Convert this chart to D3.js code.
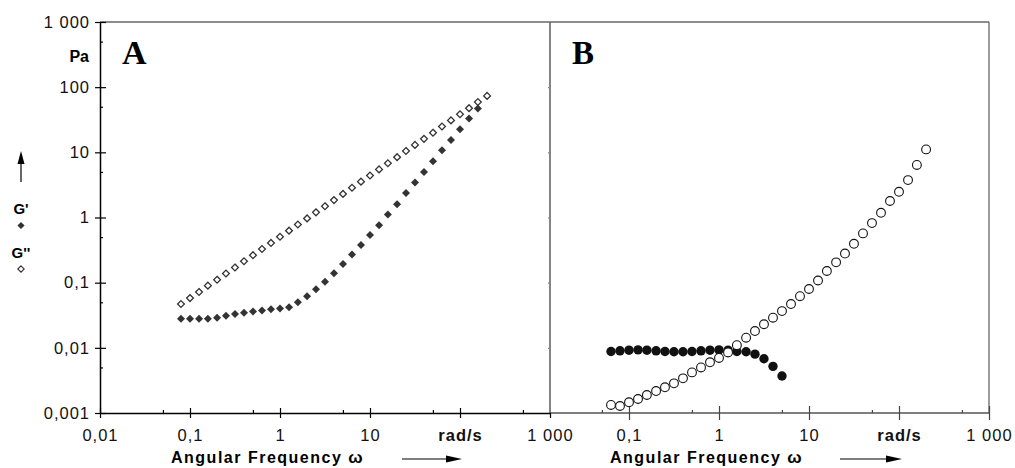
<!DOCTYPE html>
<html>
<head>
<meta charset="utf-8">
<script src="https://cdn.jsdelivr.net/npm/d3@7"></script>
<style>
  body { margin: 0; background: #fff; }
  text { font-family: "Liberation Sans", Arial, sans-serif; }
</style>
</head>
<body>
<svg id="chart" width="1015" height="468"></svg>
<script>
// panel A frequencies (rad/s), 10 points per decade
const freqA = [0.0794, 0.1, 0.126, 0.158, 0.2, 0.251, 0.316, 0.398, 0.501, 0.631,
  0.794, 1, 1.26, 1.58, 2, 2.51, 3.16, 3.98, 5.01, 6.31,
  7.94, 10, 12.6, 15.8, 20, 25.1, 31.6, 39.8, 50.1, 63.1,
  79.4, 100, 126, 158, 200];
// G' (filled diamonds), panel A
const gPrimeA = [0.028, 0.028, 0.028, 0.028, 0.029, 0.031, 0.033, 0.0345, 0.036, 0.0375,
  0.039, 0.040, 0.042, 0.050, 0.062, 0.079, 0.103, 0.139, 0.193, 0.27,
  0.378, 0.54, 0.76, 1.11, 1.6, 2.37, 3.45, 5.0, 7.3, 10.8,
  15.5, 22.7, 33, 47];
// G'' (open diamonds), panel A
const gDoubleA = [0.047, 0.058, 0.072, 0.090, 0.111, 0.138, 0.171, 0.213, 0.264, 0.328,
  0.407, 0.506, 0.628, 0.780, 0.968, 1.20, 1.49, 1.85, 2.30, 2.86,
  3.55, 4.41, 5.47, 6.79, 8.43, 10.5, 13.0, 16.1, 20.0, 24.9,
  30.9, 38.4, 47.6, 59.2, 73.5];

// panel B frequencies
const freqB = [0.0631, 0.0794, 0.1, 0.126, 0.158, 0.2, 0.251, 0.316, 0.398, 0.501,
  0.631, 0.794, 1, 1.26, 1.58, 2, 2.51, 3.16, 3.98, 5.01,
  6.31, 7.94, 10, 12.6, 15.8, 20, 25.1, 31.6, 39.8, 50.1,
  63.1, 79.4, 100, 126, 158, 200];
// G' (filled circles), panel B
const gPrimeB = [0.0088, 0.0090, 0.0092, 0.0093, 0.0092, 0.0090, 0.0088, 0.0087, 0.0087, 0.0088,
  0.0090, 0.0092, 0.0093, 0.0092, 0.0088, 0.0087, 0.0080, 0.0068, 0.0052, 0.0037];
// G'' (open circles), panel B
const gDoubleB = [0.00133, 0.00128, 0.00146, 0.00164, 0.00189, 0.00217, 0.00248, 0.00285, 0.0034, 0.0042,
  0.0050, 0.0060, 0.0070, 0.0085, 0.0110, 0.0143, 0.0181, 0.023, 0.029, 0.0366,
  0.047, 0.062, 0.080, 0.108, 0.151, 0.205, 0.28, 0.395, 0.57, 0.82,
  1.18, 1.79, 2.48, 3.75, 6.4, 11.1];

const yTickValues = [0.001, 0.01, 0.1, 1, 10, 100, 1000];
const yTickLabels = ["0,001", "0,01", "0,1", "1", "10", "100", "1 000"];
const yMinor = [0.005, 0.05, 0.5, 5, 50, 500];
const xTickValuesA = [0.01, 0.1, 1, 10, 100, 1000];
const xTickLabelsA = ["0,01", "0,1", "1", "10", "rad/s", "1 000"];
const xTickValuesB = [0.1, 1, 10, 100, 1000];
const xTickLabelsB = ["0,1", "1", "10", "rad/s", "1 000"];
const xMinor = [0.05, 0.5, 5, 50, 500];

const svg = d3.select("#chart");

const y = d3.scaleLog().domain([0.001, 1000]).range([413, 22]);
const xA = d3.scaleLog().domain([0.01, 1000]).range([100, 550]);
const xB = d3.scaleLog().domain([0.1, 1000]).range([629, 989]);

const frameColor = "#666";

// frame lines
svg.append("line").attr("x1", 100).attr("x2", 989).attr("y1", 22).attr("y2", 22)
   .attr("stroke", frameColor).attr("stroke-width", 1.3);
svg.append("line").attr("x1", 550).attr("x2", 550).attr("y1", 22).attr("y2", 413)
   .attr("stroke", frameColor).attr("stroke-width", 1.6);
svg.append("line").attr("x1", 989).attr("x2", 989).attr("y1", 22).attr("y2", 413)
   .attr("stroke", frameColor).attr("stroke-width", 1.3);
// panel B bottom line, starts at the divider
svg.append("line").attr("x1", 550).attr("x2", 989).attr("y1", 413).attr("y2", 413)
   .attr("stroke", "#555").attr("stroke-width", 1.3);

function styleAxis(g, color) {
  g.selectAll("line").attr("stroke", color).attr("stroke-width", 1.2);
  g.selectAll("path").attr("stroke", color).attr("stroke-width", 1.5);
  g.selectAll("text")
    .attr("fill", "#111")
    .style("font-size", "16.5px")
    .style("letter-spacing", "1px");
}

// panel A left axis (outside ticks with labels)
svg.append("g")
   .attr("transform", "translate(100,0)")
   .call(d3.axisLeft(y).tickValues(yTickValues).tickFormat((d, i) => yTickLabels[i])
         .tickSize(5).tickPadding(5).tickSizeOuter(0))
   .call(g => styleAxis(g, "#000"));
// inside half of the major ticks
svg.append("g")
   .attr("transform", "translate(100,0)")
   .call(d3.axisRight(y).tickValues(yTickValues).tickFormat("").tickSize(6))
   .call(g => g.select(".domain").remove())
   .call(g => styleAxis(g, "#000"));
// minor ticks
svg.append("g")
   .attr("transform", "translate(100,0)")
   .call(d3.axisRight(y).tickValues(yMinor).tickFormat("").tickSize(3))
   .call(g => g.select(".domain").remove())
   .call(g => styleAxis(g, "#000"));
// tiny ticks on the right axis of A
svg.append("g")
   .attr("transform", "translate(550,0)")
   .call(d3.axisLeft(y).tickValues(yTickValues.slice(1, 6)).tickFormat("").tickSize(2))
   .call(g => g.select(".domain").remove())
   .call(g => styleAxis(g, "#888"));

// panel A bottom axis
svg.append("g")
   .attr("transform", "translate(0,413)")
   .call(d3.axisBottom(xA).tickValues(xTickValuesA).tickFormat((d, i) => xTickLabelsA[i])
         .tickSize(5).tickPadding(11).tickSizeOuter(0))
   .call(g => styleAxis(g, "#000"));
svg.append("g")
   .attr("transform", "translate(0,413)")
   .call(d3.axisTop(xA).tickValues(xTickValuesA.slice(0, 5)).tickFormat("").tickSize(5))
   .call(g => g.select(".domain").remove())
   .call(g => styleAxis(g, "#000"));
svg.append("g")
   .attr("transform", "translate(0,413)")
   .call(d3.axisTop(xA).tickValues(xMinor).tickFormat("").tickSize(3))
   .call(g => g.select(".domain").remove())
   .call(g => styleAxis(g, "#000"));

// panel B bottom axis
svg.append("g")
   .attr("transform", "translate(0,413)")
   .call(d3.axisBottom(xB).tickValues(xTickValuesB).tickFormat((d, i) => xTickLabelsB[i])
         .tickSize(7).tickPadding(9))
   .call(g => g.select(".domain").remove())
   .call(g => styleAxis(g, "#444"));
svg.append("g")
   .attr("transform", "translate(0,413)")
   .call(d3.axisTop(xB).tickValues(xTickValuesB).tickFormat("").tickSize(7))
   .call(g => g.select(".domain").remove())
   .call(g => styleAxis(g, "#444"));
svg.append("g")
   .attr("transform", "translate(0,413)")
   .call(d3.axisTop(xB).tickValues(xMinor).tickFormat("").tickSize(3))
   .call(g => g.select(".domain").remove())
   .call(g => styleAxis(g, "#444"));

// rad/s labels are bold
svg.selectAll(".tick text").filter(function() { return d3.select(this).text() === "rad/s"; })
   .style("font-weight", "bold");

// unit
svg.append("text").attr("x", 89).attr("y", 62).attr("text-anchor", "end")
   .style("font-size", "16px").style("font-weight", "bold").text("Pa");

// panel letters
svg.append("text").attr("x", 122).attr("y", 64)
   .style("font-family", "'Liberation Serif', 'Times New Roman', serif")
   .style("font-size", "34px").style("font-weight", "bold").text("A");
svg.append("text").attr("x", 572).attr("y", 64)
   .style("font-family", "'Liberation Serif', 'Times New Roman', serif")
   .style("font-size", "33px").style("font-weight", "bold").text("B");

// diamond shape
function diamond(r) {
  return `M0,${-r}L${r},0L0,${r}L${-r},0Z`;
}

const ptsDoubleA = freqA.map((f, i) => ({ f: f, v: gDoubleA[i] }));
const ptsPrimeA = gPrimeA.map((v, i) => ({ f: freqA[i], v: v }));

svg.append("g").selectAll("path")
   .data(ptsDoubleA).enter()
   .append("path")
   .attr("d", diamond(3.4))
   .attr("transform", d => `translate(${xA(d.f)},${y(d.v)})`)
   .attr("fill", "#fff").attr("stroke", "#333").attr("stroke-width", 1.3);

svg.append("g").selectAll("path")
   .data(ptsPrimeA).enter()
   .append("path")
   .attr("d", diamond(4))
   .attr("transform", d => `translate(${xA(d.f)},${y(d.v)})`)
   .attr("fill", "#333");

const ptsPrimeB = gPrimeB.map((v, i) => ({ f: freqB[i], v: v }));
const ptsDoubleB = freqB.map((f, i) => ({ f: f, v: gDoubleB[i] }));

svg.append("g").selectAll("circle")
   .data(ptsPrimeB).enter()
   .append("circle")
   .attr("cx", d => xB(d.f)).attr("cy", d => y(d.v)).attr("r", 4.7)
   .attr("fill", "#111");

svg.append("g").selectAll("circle")
   .data(ptsDoubleB).enter()
   .append("circle")
   .attr("cx", d => xB(d.f)).attr("cy", d => y(d.v)).attr("r", 4.4)
   .attr("fill", "#fff").attr("stroke", "#111").attr("stroke-width", 1.1);

// x axis titles with arrows
function axisTitle(x0, ax1, ax2) {
  const t = svg.append("text").attr("x", x0).attr("y", 463)
     .style("font-size", "16px").style("font-weight", "bold")
     .style("letter-spacing", "1.5px");
  t.append("tspan").text("Angular Frequency ");
  t.append("tspan").style("font-size", "17px").text("ω");
  svg.append("line").attr("x1", ax1).attr("x2", ax2 - 14).attr("y1", 459).attr("y2", 459)
     .attr("stroke", "#000").attr("stroke-width", 1.2);
  svg.append("path").attr("d", `M${ax2 - 16},455.5L${ax2},459L${ax2 - 16},462.5Z`).attr("fill", "#000");
}
axisTitle(171, 402, 462);
axisTitle(610, 840, 902);

// y legend on the left
svg.append("line").attr("x1", 21).attr("x2", 21).attr("y1", 182).attr("y2", 160)
   .attr("stroke", "#000").attr("stroke-width", 1.2);
svg.append("path").attr("d", "M17.5,164L21,151L24.5,164Z").attr("fill", "#000");
svg.append("text").attr("x", 21).attr("y", 214).attr("text-anchor", "middle")
   .style("font-size", "15px").style("font-weight", "bold").text("G'");
svg.append("path").attr("d", diamond(3.6)).attr("transform", "translate(21,225.5)").attr("fill", "#333");
svg.append("text").attr("x", 21).attr("y", 258).attr("text-anchor", "middle")
   .style("font-size", "15px").style("font-weight", "bold").text("G''");
svg.append("path").attr("d", diamond(3.2)).attr("transform", "translate(21,269)")
   .attr("fill", "#fff").attr("stroke", "#333").attr("stroke-width", 1.1);
</script>
</body>
</html>
